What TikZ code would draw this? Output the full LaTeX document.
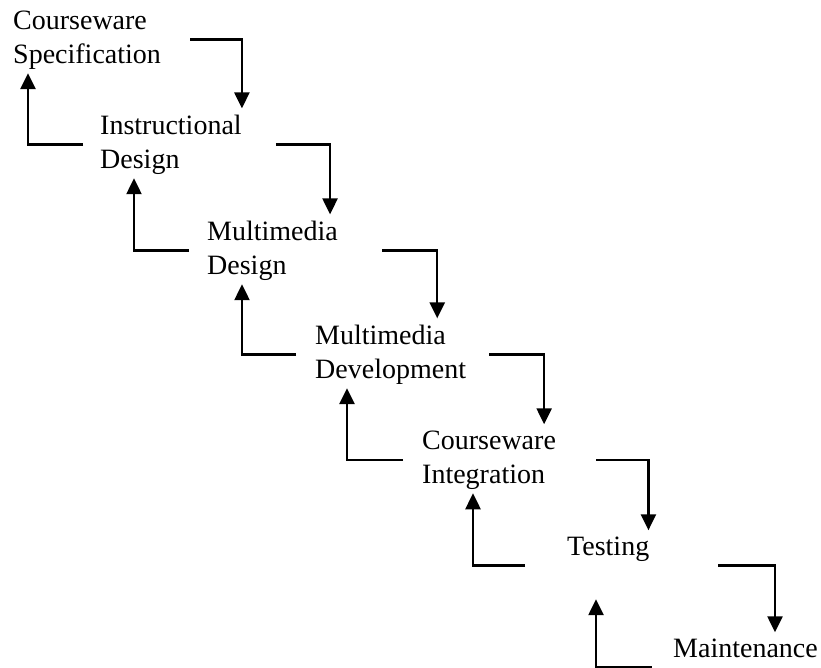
\documentclass[tikz,border=0pt]{standalone}
\usepackage{fontspec}
\setmainfont{Liberation Serif}
\usetikzlibrary{arrows.meta}

\begin{document}
\begin{tikzpicture}[x=1pt,y=-1pt,
        stage/.style={align=left, anchor=base west, inner sep=0pt, font=\fontsize{28}{34}\selectfont},
        tall/.style={text depth=40pt},
        flow/.style={line width=2.5pt, -{Triangle[width=15pt,length=16pt]}}]

        \useasboundingbox (0,0) rectangle (821,667);

        % Place the stages down the staircase (y is the last baseline)
        \foreach \i/\x/\y/\s/\txt in {1/13/63//{Courseware\\Specification},
                                      2/100/168//{Instructional\\Design},
                                      3/207/274//{Multimedia\\Design},
                                      4/315/378//{Multimedia\\Development},
                                      5/422/483//{Courseware\\Integration},
                                      6/567/555/tall/{Testing},
                                      7/673/657/tall/{Maintenance}} {
            \node[stage,\s] (s\i) at (\x,\y) {\txt};
        }

        % Forward step down, feedback step up
        \foreach \i/\j/\a/\b/\c/\d in {1/2/29/0/17/15,
                                      2/3/34/-8/18/34,
                                      3/4/44/-29/19/35,
                                      4/5/23/-12/19/32,
                                      5/6/40/-1/42/51,
                                      6/7/69/-43/21/29} {
            \draw[flow] ([xshift=\a]s\i.east) -| ([xshift=\b,yshift=6]s\j.north east);
            \draw[flow] ([xshift=-\c]s\j.west) -| ([xshift=\d,yshift=-4]s\i.south west);
        }
    \end{tikzpicture}
\end{document}
